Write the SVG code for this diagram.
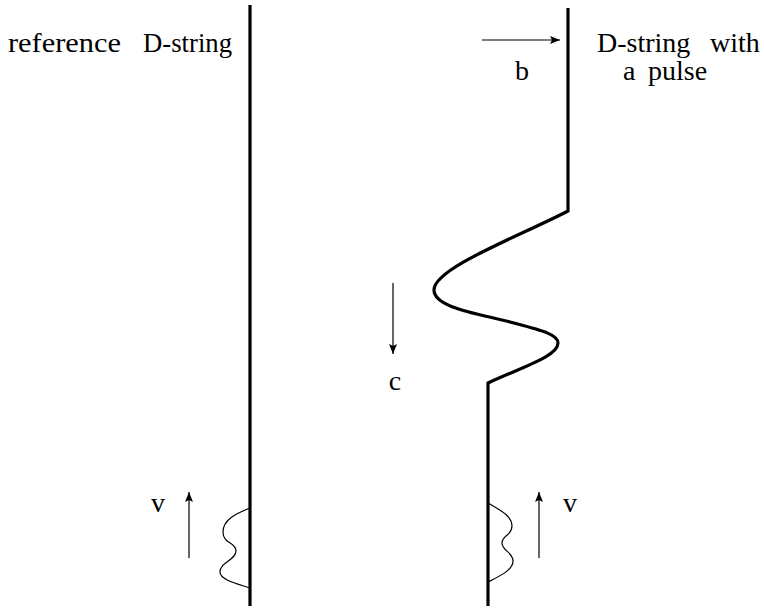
<svg xmlns="http://www.w3.org/2000/svg" width="764" height="608" viewBox="0 0 764 608">
<style>
text{font-family:"Liberation Serif","Times New Roman",serif;font-size:28px;fill:#000}
.str{fill:none;stroke:#000;stroke-width:3.2}
.thin{fill:none;stroke:#000;stroke-width:1.2}
.arr{fill:none;stroke:#000;stroke-width:1.2;marker-end:url(#ah)}
</style>
<defs>
<marker id="ah" viewBox="0 0 10 8" refX="10" refY="4" markerWidth="10" markerHeight="8" markerUnits="userSpaceOnUse" orient="auto">
<path d="M0,0 L10,4 L0,8 L2,4 Z" fill="#000"/>
</marker>
</defs>
<g id="reference-string">
<line class="str" x1="250" y1="5" x2="250" y2="606"/>
<path class="thin" d="M250,508 C235,514 223,520 223,532 C223,544 236,542 236,551 C236,560 220,562 220,572 C220,580 238,584 250,588"/>
<text y="52"><tspan x="8" textLength="113" lengthAdjust="spacingAndGlyphs">reference</tspan><tspan x="143" textLength="89" lengthAdjust="spacingAndGlyphs">D-string</tspan></text>
</g>
<g id="pulse-string">
<path class="str" d="M568,8 V211 C520,236 434,268 434,290 C434,308 480,314 510,322 C540,330 558,334 558,343 C558,356 525,366 488,383 V606"/>
<path class="thin" d="M488,503 C500,510 512,516 512,526 C512,536 502,535 502,543 C502,551 513,552 513,561 C513,570 500,576 488,582"/>
<text y="52"><tspan x="597">D-string</tspan><tspan x="710">with</tspan></text>
<text y="80"><tspan x="623">a</tspan><tspan x="648">pulse</tspan></text>
</g>
<g id="connectors">
<line class="arr" x1="482" y1="40" x2="560" y2="40"/>
<line class="arr" x1="393" y1="283" x2="393" y2="354"/>
<line class="arr" x1="189" y1="558" x2="189" y2="492"/>
<line class="arr" x1="539" y1="558" x2="539" y2="492"/>
</g>
<g id="labels">
<text x="522" y="80" text-anchor="middle">b</text>
<text x="395" y="390" text-anchor="middle">c</text>
<text x="158" y="512" text-anchor="middle">v</text>
<text x="570" y="512" text-anchor="middle">v</text>
</g>
</svg>
